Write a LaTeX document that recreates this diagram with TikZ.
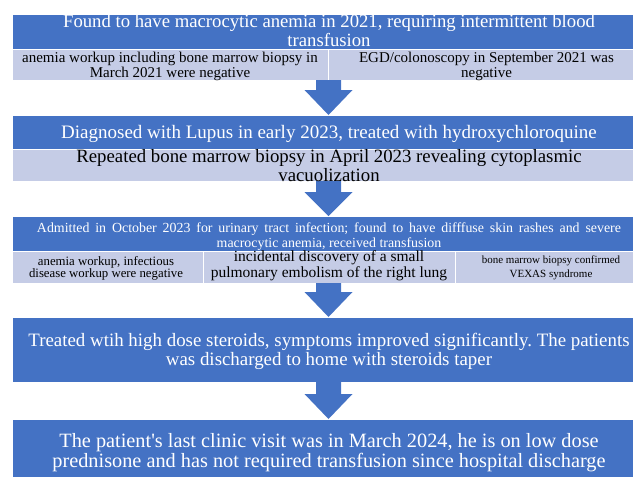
\documentclass[tikz,border=0pt]{standalone}
\usepackage{fontspec}
\setmainfont{Liberation Serif}
\usetikzlibrary{calc}
\definecolor{mainblue}{HTML}{4472C4}
\definecolor{subblue}{HTML}{C5CCE6}
\frenchspacing
\begin{document}
\begin{tikzpicture}[x=1pt,y=-1pt,
  bluebox/.style={fill=mainblue, draw=white, line width=0.5pt, anchor=north west, inner sep=0pt, outer sep=0pt},
  lightbox/.style={fill=subblue, draw=white, line width=0.5pt, anchor=north west, inner sep=0pt, outer sep=0pt},
  wtext/.style={text=white, align=center, inner sep=0pt, anchor=base},
  ktext/.style={text=black, align=center, inner sep=0pt, anchor=base},
  blockarrow/.style={fill=mainblue, draw=none}
]
\useasboundingbox (0,0) rectangle (633,477);
\clip (0,0) rectangle (633,477);
% boxes
\node[bluebox, minimum width=633pt, minimum height=35pt] (b1) at (12,14) {};
\node[lightbox, minimum width=316pt, minimum height=31pt] (s1a) at (12,49) {};
\node[lightbox, minimum width=317pt, minimum height=31pt] (s1b) at (328,49) {};
\node[bluebox, minimum width=633pt, minimum height=34pt] (b2) at (12,115) {};
\node[lightbox, minimum width=633pt, minimum height=32pt] (s2) at (12,149) {};
\node[bluebox, minimum width=633pt, minimum height=35pt] (b3) at (12,216) {};
\node[lightbox, minimum width=191pt, minimum height=32pt] (s3a) at (12,251) {};
\node[lightbox, minimum width=252pt, minimum height=32pt] (s3b) at (203,251) {};
\node[lightbox, minimum width=190pt, minimum height=32pt] (s3c) at (455,251) {};
\node[bluebox, minimum width=633pt, minimum height=65pt] (b4) at (12,317) {};
\node[bluebox, minimum width=633pt, minimum height=70pt] (b5) at (12,419) {};
% arrows
\fill[blockarrow] let \p1=(s1a.south east), \p2=(b2.north) in
  (\x2-12.5pt,\y1) -- (\x2+12.5pt,\y1) -- (\x2+12.5pt,\y2+25pt) -- (\x2+24pt,\y2+25pt) -- (\x2,\y2) -- (\x2-24pt,\y2+25pt) -- (\x2-12.5pt,\y2+25pt) -- cycle;
\fill[blockarrow] let \p1=(s2.south), \p2=(b3.north) in
  (\x2-12.5pt,\y1) -- (\x2+12.5pt,\y1) -- (\x2+12.5pt,\y2+24pt) -- (\x2+24pt,\y2+24pt) -- (\x2,\y2) -- (\x2-24pt,\y2+24pt) -- (\x2-12.5pt,\y2+24pt) -- cycle;
\fill[blockarrow] let \p1=(s3b.south), \p2=(b4.north) in
  (\x2-12.5pt,\y1) -- (\x2+12.5pt,\y1) -- (\x2+12.5pt,\y2+25pt) -- (\x2+24pt,\y2+25pt) -- (\x2,\y2) -- (\x2-24pt,\y2+25pt) -- (\x2-12.5pt,\y2+25pt) -- cycle;
\fill[blockarrow] let \p1=(b4.south), \p2=(b5.north) in
  (\x2-12.5pt,\y1) -- (\x2+12.5pt,\y1) -- (\x2+12.5pt,\y2+25pt) -- (\x2+24pt,\y2+25pt) -- (\x2,\y2) -- (\x2-24pt,\y2+25pt) -- (\x2-12.5pt,\y2+25pt) -- cycle;
% texts (anchor base = baseline of the last line)
\node[wtext, font=\fontsize{18.7}{19}\selectfont] (t1) at (329,46) {Found to have macrocytic anemia in 2021, requiring intermittent blood\\transfusion};
\node[ktext, font=\fontsize{15}{14.5}\selectfont] (t1a) at (170,77) {anemia workup including bone marrow biopsy in\\March 2021 were negative};
\node[ktext, font=\fontsize{15}{14.5}\selectfont] (t1b) at (486.5,77) {EGD/colonoscopy in September 2021 was\\negative};
\node[wtext, font=\fontsize{19}{19}\selectfont] (t2) at (329,138) {Diagnosed with Lupus in early 2023, treated with hydroxychloroquine};
\node[ktext, font=\fontsize{18.8}{19}\selectfont] (t2a) at (329,181) {Repeated bone marrow biopsy in April 2023 revealing cytoplasmic\\vacuolization};
\node[wtext, font=\fontsize{13.9}{15}\selectfont] (t3) at (329,247) {\makebox[584pt][s]{Admitted in October 2023 for urinary tract infection; found to have difffuse skin rashes and severe}\\macrocytic anemia, received transfusion};
\node[ktext, font=\fontsize{12.8}{12}\selectfont] (t3a) at (106,277) {anemia workup, infectious\\disease workup were negative};
\node[ktext, font=\fontsize{15.5}{12}\selectfont] (t3b) at (329,277) {incidental discovery of a small\\pulmonary embolism of the right lung};
\node[ktext, font=\fontsize{11}{14}\selectfont] (t3c) at (551,277) {bone marrow biopsy confirmed\\VEXAS syndrome};
\node[wtext, font=\fontsize{18.9}{19}\selectfont] (t4) at (329,365) {Treated wtih high dose steroids, symptoms improved significantly. The patients\\was discharged to home with steroids taper};
\node[wtext, font=\fontsize{20.3}{20}\selectfont] (t5) at (329,467) {The patient\textquotesingle s last clinic visit was in March 2024, he is on low dose\\prednisone and has not required transfusion since hospital discharge};
\end{tikzpicture}
\end{document}
